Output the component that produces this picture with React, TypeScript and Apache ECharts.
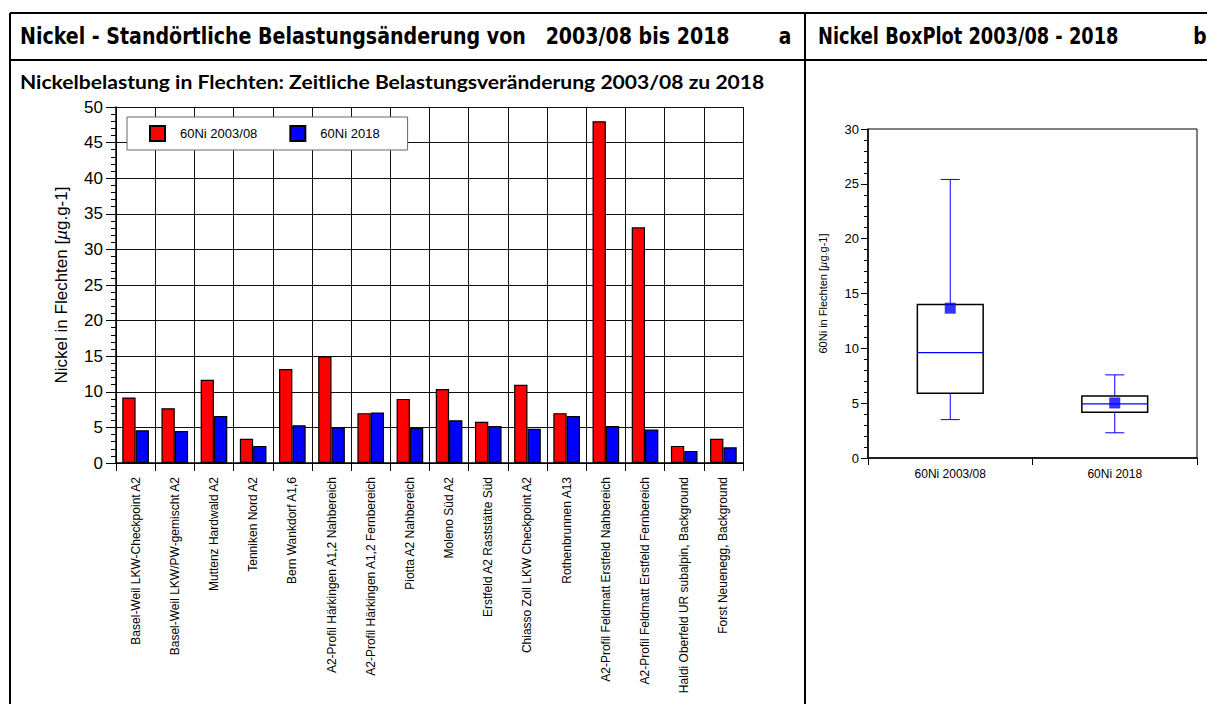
import React, { useEffect, useRef } from "react";
import * as echarts from "echarts";

const categories = [
  "Basel-Weil LKW-Checkpoint A2",
  "Basel-Weil LKW/PW-gemischt A2",
  "Muttenz Hardwald A2",
  "Tenniken Nord A2",
  "Bern Wankdorf A1,6",
  "A2-Profil Härkingen A1,2 Nahbereich",
  "A2-Profil Härkingen A1,2 Fernbereich",
  "Piotta A2 Nahbereich",
  "Moleno Süd A2",
  "Erstfeld A2 Raststätte Süd",
  "Chiasso Zoll LKW Checkpoint A2",
  "Rothenbrunnen A13",
  "A2-Profil Feldmatt Erstfeld Nahbereich",
  "A2-Profil Feldmatt Erstfeld Fernbereich",
  "Haldi Oberfeld UR subalpin, Background",
  "Forst Neuenegg, Background",
];
const ni2003 = [9.2, 7.7, 11.7, 3.4, 13.2, 15.0, 7.0, 9.0, 10.4, 5.8, 11.0, 7.0, 48.0, 33.1, 2.4, 3.4];
const ni2018 = [4.6, 4.5, 6.6, 2.4, 5.3, 5.0, 7.1, 4.9, 6.0, 5.2, 4.8, 6.6, 5.2, 4.7, 1.7, 2.2];
const seriesNames = ["60Ni 2003/08", "60Ni 2018"];

const boxCategories = ["60Ni 2003/08", "60Ni 2018"];
// [min, Q1, median, Q3, max]
const boxStats = [
  [3.5, 5.9, 9.6, 14.0, 25.4],
  [2.3, 4.17, 4.93, 5.66, 7.58],
];
const boxMeans = [13.66, 5.02];

const barTicks = { min: 0, max: 50, interval: 5 };
const boxTicks = { min: 0, max: 30, interval: 5 };

const SANS = "'Liberation Sans', Arial, Helvetica, sans-serif";
const HEAD = "'DejaVu Sans Condensed', 'Liberation Sans', sans-serif";

export default function App() {
  const ref = useRef<HTMLDivElement>(null);
  useEffect(() => {
    if (!ref.current) return;
    const chart = echarts.init(ref.current, null, { renderer: "svg" });
    const lineEl = (x1: number, y1: number, x2: number, y2: number) => ({
      type: "line",
      shape: { x1, y1, x2, y2 },
      style: { stroke: "#000", lineWidth: 2 },
      silent: true,
    });
    const headStyle = {
      fontFamily: HEAD,
      fontWeight: "bold",
      fontSize: 23,
      fill: "#000",
      verticalAlign: "middle",
    };
    const option: any = {
      animation: false,
      backgroundColor: "#fff",
      textStyle: { fontFamily: SANS, color: "#000" },
      graphic: [
        lineEl(10, 13, 1210, 13),
        lineEl(10, 13, 10, 710),
        lineEl(805, 13, 805, 710),
        lineEl(10, 60, 1210, 60),
        {
          type: "text",
          x: 20,
          y: 36,
          scaleX: 0.92,
          style: { ...headStyle, text: "Nickel - Standörtliche Belastungsänderung von   2003/08 bis 2018" },
        },
        {
          type: "text",
          x: 785,
          y: 36,
          scaleX: 0.9,
          style: { ...headStyle, text: "a", align: "center" },
        },
        {
          type: "text",
          x: 818,
          y: 36,
          scaleX: 0.86,
          style: { ...headStyle, text: "Nickel BoxPlot 2003/08 - 2018" },
        },
        {
          type: "text",
          x: 1200,
          y: 36,
          scaleX: 0.9,
          style: { ...headStyle, text: "b", align: "center" },
        },
        {
          type: "text",
          x: 20,
          y: 81,
          scaleX: 1.11,
          style: {
            text: "Nickelbelastung in Flechten: Zeitliche Belastungsveränderung 2003/08 zu 2018",
            fontFamily: "Lato, 'Open Sans', sans-serif",
            fontWeight: "bold",
            fontSize: 19,
            fill: "#000",
            verticalAlign: "middle",
          },
        },
      ],
      legend: {
        data: seriesNames,
        left: 127,
        top: 117,
        orient: "horizontal",
        itemWidth: 15,
        itemHeight: 15,
        itemGap: 32,
        padding: [8, 28, 8, 22],
        backgroundColor: "#fff",
        borderColor: "#666",
        borderWidth: 1,
        textStyle: { fontFamily: SANS, fontSize: 13, color: "#000", padding: [0, 0, 0, 10] },
        icon: "rect",
      },
      grid: [
        { left: 116, top: 107, width: 627, height: 356 },
        { left: 868, top: 129, width: 329, height: 329, show: true, borderColor: "#000", borderWidth: 1 },
      ],
      xAxis: [
        {
          type: "category",
          gridIndex: 0,
          data: categories,
          axisLine: { lineStyle: { color: "#000", width: 1.5 } },
          axisTick: { show: true, length: 8, interval: 0, lineStyle: { color: "#000" } },
          splitLine: { show: true, interval: 0, lineStyle: { color: "#111", width: 1 } },
          axisLabel: { interval: 0, rotate: 90, fontSize: 12, color: "#000", margin: 14, fontFamily: SANS },
        },
        {
          type: "category",
          gridIndex: 1,
          data: boxCategories,
          axisLine: { lineStyle: { color: "#000", width: 1.5 } },
          axisTick: { show: true, length: 7, lineStyle: { color: "#000" } },
          axisLabel: { fontSize: 12, color: "#000", margin: 10, fontFamily: SANS },
        },
      ],
      yAxis: [
        {
          type: "value",
          gridIndex: 0,
          ...barTicks,
          name: "{n|Nickel in Flechten [}{m|µ}{n|g.g-1]}",
          nameLocation: "middle",
          nameGap: 46,
          nameTextStyle: {
            rich: {
              n: { fontSize: 17, fontFamily: SANS, color: "#000" },
              m: { fontSize: 17, fontFamily: SANS, fontStyle: "italic", color: "#000" },
            },
          },
          axisLine: { show: true, lineStyle: { color: "#000", width: 1.5 } },
          axisTick: { show: true, length: 10, lineStyle: { color: "#000" } },
          minorTick: { show: true, splitNumber: 5, length: 5, lineStyle: { color: "#000" } },
          splitLine: { show: true, lineStyle: { color: "#111", width: 1 } },
          axisLabel: { fontSize: 17, color: "#000", margin: 13, fontFamily: SANS },
        },
        {
          type: "value",
          gridIndex: 1,
          ...boxTicks,
          name: "{n|60Ni in Flechten [}{m|µ}{n|g.g-1]}",
          nameLocation: "middle",
          nameGap: 40,
          nameTextStyle: {
            rich: {
              n: { fontSize: 11, fontFamily: SANS, color: "#000" },
              m: { fontSize: 11, fontFamily: SANS, fontStyle: "italic", color: "#000" },
            },
          },
          axisLine: { show: true, lineStyle: { color: "#000", width: 1.5 } },
          axisTick: { show: true, length: 7, lineStyle: { color: "#000" } },
          minorTick: { show: true, splitNumber: 5, length: 4, lineStyle: { color: "#000" } },
          splitLine: { show: false },
          axisLabel: { fontSize: 13, color: "#000", margin: 9, fontFamily: SANS },
        },
      ],
      series: [
        {
          name: seriesNames[0],
          type: "bar",
          xAxisIndex: 0,
          yAxisIndex: 0,
          data: ni2003,
          barWidth: "34%",
          barGap: "0%",
          itemStyle: { color: "#ff0000", borderColor: "#000", borderWidth: 1.2 },
        },
        {
          name: seriesNames[1],
          type: "bar",
          xAxisIndex: 0,
          yAxisIndex: 0,
          data: ni2018,
          barWidth: "34%",
          barGap: "0%",
          itemStyle: { color: "#0000ff", borderColor: "#000", borderWidth: 1.2 },
        },
        {
          type: "custom",
          xAxisIndex: 1,
          yAxisIndex: 1,
          data: boxStats.map((s, i) => [i, ...s]),
          encode: { x: 0, y: [1, 2, 3, 4, 5] },
          renderItem: (params: any, api: any) => {
            const i = api.value(0);
            const pMin = api.coord([i, api.value(1)]);
            const pQ1 = api.coord([i, api.value(2)]);
            const pMed = api.coord([i, api.value(3)]);
            const pQ3 = api.coord([i, api.value(4)]);
            const pMax = api.coord([i, api.value(5)]);
            const cx = pMed[0];
            const bw = api.size([1, 0])[0] * 0.4;
            const cap = 9.5;
            const blue = { stroke: "#0000ff", lineWidth: 1 };
            return {
              type: "group",
              children: [
                { type: "line", shape: { x1: cx, y1: pMax[1], x2: cx, y2: pQ3[1] }, style: blue },
                { type: "line", shape: { x1: cx - cap, y1: pMax[1], x2: cx + cap, y2: pMax[1] }, style: blue },
                { type: "line", shape: { x1: cx, y1: pQ1[1], x2: cx, y2: pMin[1] }, style: blue },
                { type: "line", shape: { x1: cx - cap, y1: pMin[1], x2: cx + cap, y2: pMin[1] }, style: blue },
                {
                  type: "rect",
                  shape: { x: cx - bw / 2, y: pQ3[1], width: bw, height: pQ1[1] - pQ3[1] },
                  style: { fill: "#fff", stroke: "#000", lineWidth: 1.5 },
                },
                { type: "line", shape: { x1: cx - bw / 2, y1: pMed[1], x2: cx + bw / 2, y2: pMed[1] }, style: { stroke: "#0000ff", lineWidth: 1.3 } },
              ],
            };
          },
        },
        {
          type: "scatter",
          xAxisIndex: 1,
          yAxisIndex: 1,
          data: boxMeans.map((v, i) => [i, v]),
          symbol: "rect",
          symbolSize: 11,
          itemStyle: { color: "#0000ff" },
          z: 5,
        },
      ],
    };
    chart.setOption(option);
    return () => chart.dispose();
  }, []);
  return (
    <div
      ref={ref}
      style={{ position: "absolute", left: 0, top: 0, width: 1207, height: 704 }}
    />
  );
}
